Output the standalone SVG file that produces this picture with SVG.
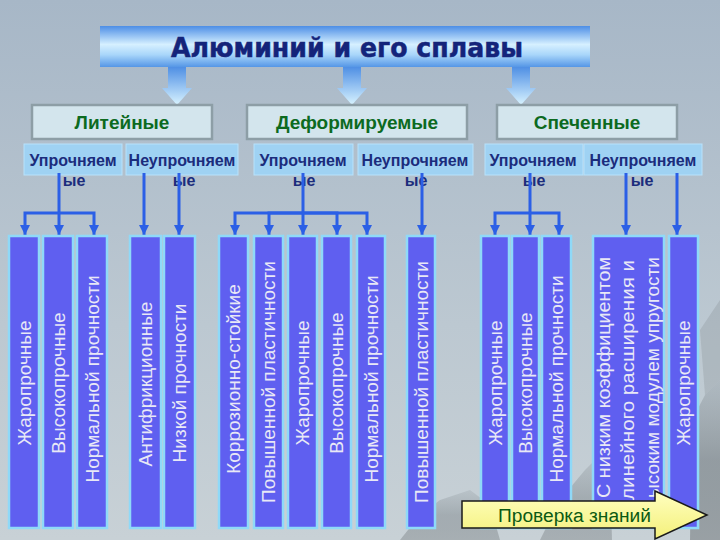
<svg xmlns="http://www.w3.org/2000/svg" width="720" height="540" viewBox="0 0 720 540">
<defs>
<linearGradient id="bg" x1="0" y1="0" x2="0" y2="1">
<stop offset="0" stop-color="#a7b7c7"/>
<stop offset="0.6" stop-color="#bcc8d1"/>
<stop offset="1" stop-color="#c8d1d6"/>
</linearGradient>
<linearGradient id="mtn" x1="0" y1="0" x2="0" y2="1">
<stop offset="0" stop-color="#7d868c" stop-opacity="0.25"/>
<stop offset="0.5" stop-color="#737b80" stop-opacity="0.6"/>
<stop offset="1" stop-color="#8d9498" stop-opacity="0.8"/>
</linearGradient>
<linearGradient id="bar" x1="0" y1="0" x2="0" y2="1">
<stop offset="0" stop-color="#4d8ee6"/>
<stop offset="0.45" stop-color="#d6f0ff"/>
<stop offset="0.7" stop-color="#a9d6fa"/>
<stop offset="1" stop-color="#5596e6"/>
</linearGradient>
<linearGradient id="arr" x1="0" y1="0" x2="0" y2="1">
<stop offset="0" stop-color="#4f8fe4"/>
<stop offset="1" stop-color="#d8f3ff"/>
</linearGradient>
<linearGradient id="btn" x1="0" y1="0" x2="0" y2="1">
<stop offset="0" stop-color="#ffffc0"/>
<stop offset="1" stop-color="#f4f07a"/>
</linearGradient>
<marker id="ah" markerUnits="userSpaceOnUse" markerWidth="11" markerHeight="10" refX="10" refY="5" orient="auto">
<path d="M0,0 L10,5 L0,10 Z" fill="#2b5fe6"/>
</marker>
</defs>
<style>
.cat{fill:#d3e5ed;stroke:#8d9ea6;stroke-width:2.5}
.catt{font-family:"Liberation Sans",Arial,sans-serif;font-weight:bold;font-size:19px;fill:#0c6a1f;text-anchor:middle}
.sub{fill:#9fd2f3;stroke:#b8e2fb;stroke-width:1}
.subt{font-family:"Liberation Sans",Arial,sans-serif;font-weight:bold;font-size:16px;fill:#1b2c7c;text-anchor:middle}
.col{fill:#5f5ff0;stroke:#8fd9f8;stroke-width:2.5}
.colt{font-family:"Liberation Sans",Arial,sans-serif;font-size:19px;fill:#e8e8f6;text-anchor:middle}
.colt3{font-family:"Liberation Sans",Arial,sans-serif;font-size:19px;fill:#e8e8f6}
.con{fill:none;stroke:#2b5fe6;stroke-width:3;marker-end:url(#ah)}
</style>
<rect x="0" y="0" width="720" height="540" fill="url(#bg)"/>
<g id="background">
<polygon points="690,540 692,420 705,395 720,380 720,540" fill="url(#mtn)"/>
<polygon points="540,540 560,500 585,470 600,455 610,470 612,540" fill="url(#mtn)" opacity="0.7"/>
<polygon points="400,540 420,515 440,500 470,490 490,505 500,540" fill="url(#mtn)" opacity="0.7"/>
<polygon points="700,330 720,300 720,380 705,395" fill="#8e989e" opacity="0.35"/>
</g>
<g id="title">
<rect x="100" y="26" width="490" height="41" fill="url(#bar)"/>
<text x="171" y="57" textLength="352" lengthAdjust="spacingAndGlyphs" font-family="DejaVu Sans, sans-serif" font-weight="bold" font-size="27" fill="#14247a" stroke="#14247a" stroke-width="0.5">Алюминий и его сплавы</text>
</g>
<g id="title-arrows">
<path d="M168,67 H186 V88 H192 L177,105 L162,88 H168 Z" fill="url(#arr)"/>
<path d="M343,67 H361 V88 H367 L352,105 L337,88 H343 Z" fill="url(#arr)"/>
<path d="M512,67 H530 V88 H536 L521,105 L506,88 H512 Z" fill="url(#arr)"/>
</g>
<g id="cat-liteinye">
<rect class="cat" x="32" y="105" width="180" height="34"/>
<text class="catt" x="122" y="129">Литейные</text>
</g>
<g id="cat-deform">
<rect class="cat" x="247" y="105" width="220" height="34"/>
<text class="catt" x="357" y="129">Деформируемые</text>
</g>
<g id="cat-spech">
<rect class="cat" x="497" y="105" width="180" height="34"/>
<text class="catt" x="587" y="129">Спеченные</text>
</g>
<g id="sub-l-u">
<rect class="sub" x="24" y="144" width="98" height="31"/>
<text class="subt" x="73" y="166">Упрочняем</text>
<text class="subt" x="74" y="186">ые</text>
</g>
<g id="sub-l-n">
<rect class="sub" x="126" y="144" width="112" height="31"/>
<text class="subt" x="182" y="166">Неупрочняем</text>
<text class="subt" x="184" y="186">ые</text>
</g>
<g id="sub-d-u">
<rect class="sub" x="254" y="144" width="99" height="31"/>
<text class="subt" x="303" y="166">Упрочняем</text>
<text class="subt" x="304" y="186">ые</text>
</g>
<g id="sub-d-n">
<rect class="sub" x="358" y="144" width="115" height="31"/>
<text class="subt" x="415" y="166">Неупрочняем</text>
<text class="subt" x="416" y="186">ые</text>
</g>
<g id="sub-s-u">
<rect class="sub" x="485" y="144" width="98" height="31"/>
<text class="subt" x="533" y="166">Упрочняем</text>
<text class="subt" x="534" y="186">ые</text>
</g>
<g id="sub-s-n">
<rect class="sub" x="584" y="144" width="118" height="31"/>
<text class="subt" x="643" y="166">Неупрочняем</text>
<text class="subt" x="642" y="186">ые</text>
</g>
<g id="connectors">
<path class="con" d="M59,173 V235"/>
<path class="con" d="M59,213 H25 V235"/>
<path class="con" d="M59,213 H94 V235"/>
<path class="con" d="M144,173 V235"/>
<path class="con" d="M179,173 V235"/>
<path class="con" d="M303,173 V235"/>
<path class="con" d="M303,213 H235 V235"/>
<path class="con" d="M303,213 H269 V235"/>
<path class="con" d="M303,213 H337 V235"/>
<path class="con" d="M303,213 H367 V235"/>
<path class="con" d="M422,173 V235"/>
<path class="con" d="M530,173 V235"/>
<path class="con" d="M530,213 H495 V235"/>
<path class="con" d="M530,213 H559 V235"/>
<path class="con" d="M626,173 V235"/>
<path class="con" d="M677,173 V235"/>
</g>
<g id="c1"><rect class="col" x="9" y="236" width="30" height="292"/><text class="colt" transform="translate(30.5 383) rotate(-90)">Жаропрочные</text></g>
<g id="c2"><rect class="col" x="43" y="236" width="30" height="292"/><text class="colt" transform="translate(64.5 383) rotate(-90)">Высокопрочные</text></g>
<g id="c3"><rect class="col" x="77" y="236" width="30" height="292"/><text class="colt" transform="translate(98.5 379) rotate(-90)">Нормальной прочности</text></g>
<g id="c4"><rect class="col" x="130" y="236" width="31" height="292"/><text class="colt" transform="translate(152 384) rotate(-90)">Антифрикционные</text></g>
<g id="c5"><rect class="col" x="164" y="236" width="31" height="292"/><text class="colt" transform="translate(186 383) rotate(-90)">Низкой прочности</text></g>
<g id="c6"><rect class="col" x="219" y="236" width="29" height="292"/><text class="colt" transform="translate(240 379) rotate(-90)">Коррозионно-стойкие</text></g>
<g id="c7"><rect class="col" x="254" y="236" width="29" height="292"/><text class="colt" transform="translate(275 382) rotate(-90)">Повышенной пластичности</text></g>
<g id="c8"><rect class="col" x="288" y="236" width="29" height="292"/><text class="colt" transform="translate(309 383) rotate(-90)">Жаропрочные</text></g>
<g id="c9"><rect class="col" x="322" y="236" width="29" height="292"/><text class="colt" transform="translate(343 383) rotate(-90)">Высокопрочные</text></g>
<g id="c10"><rect class="col" x="357" y="236" width="28" height="292"/><text class="colt" transform="translate(377.5 379) rotate(-90)">Нормальной прочности</text></g>
<g id="c11"><rect class="col" x="407" y="236" width="28" height="292"/><text class="colt" transform="translate(427.5 382) rotate(-90)">Повышенной пластичности</text></g>
<g id="c12"><rect class="col" x="481" y="236" width="28" height="292"/><text class="colt" transform="translate(501.5 383) rotate(-90)">Жаропрочные</text></g>
<g id="c13"><rect class="col" x="512" y="236" width="27" height="292"/><text class="colt" transform="translate(532 383) rotate(-90)">Высокопрочные</text></g>
<g id="c14"><rect class="col" x="542" y="236" width="29" height="292"/><text class="colt" transform="translate(563 379) rotate(-90)">Нормальной прочности</text></g>
<g id="c15"><rect class="col" x="593" y="236" width="71" height="292"/>
<text class="colt3" transform="translate(609.5 498) rotate(-90)" textLength="241" lengthAdjust="spacingAndGlyphs">С низким коэффициентом</text>
<text class="colt3" transform="translate(634 500) rotate(-90)" textLength="240" lengthAdjust="spacingAndGlyphs">линейного расширения и</text>
<text class="colt3" transform="translate(658.5 498) rotate(-90)" textLength="241" lengthAdjust="spacingAndGlyphs">ысоким модулем упругости</text>
</g>
<g id="c16"><rect class="col" x="669" y="236" width="29" height="292"/><text class="colt" transform="translate(690 383) rotate(-90)">Жаропрочные</text></g>
<g id="btn-check">
<polygon points="462,501 655,501 655,491 707,515 655,539 655,528 462,528" fill="url(#btn)" stroke="#1a1a1a" stroke-width="1.5"/>
<text x="651" y="522" textLength="153" lengthAdjust="spacingAndGlyphs" font-family="Liberation Sans, Arial, sans-serif" font-size="18" fill="#0b5a13" text-anchor="end">Проверка знаний</text>
</g>
</svg>
